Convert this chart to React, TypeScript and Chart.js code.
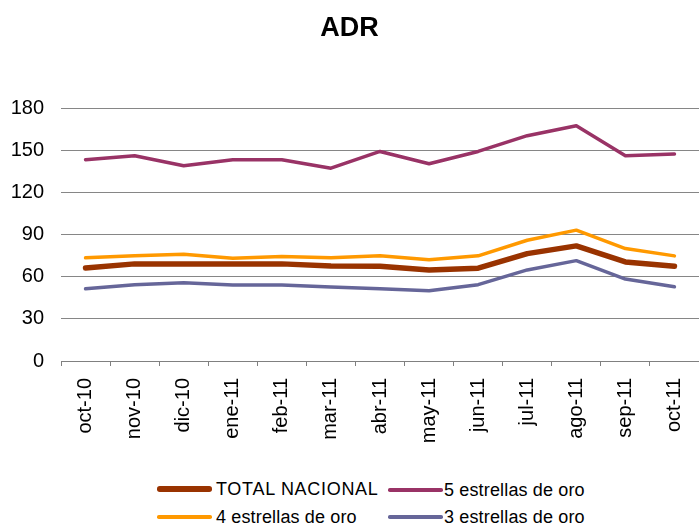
import React, { useEffect, useRef } from "react";
import { Chart, registerables } from "chart.js";

Chart.register(...registerables);

const categories = [
  "oct-10", "nov-10", "dic-10", "ene-11", "feb-11", "mar-11", "abr-11",
  "may-11", "jun-11", "jul-11", "ago-11", "sep-11", "oct-11",
];

const totalNacional = [66.2, 69.1, 69.1, 69.1, 69.1, 67.6, 67.4, 64.8, 66, 76.4, 81.9, 70.5, 67.4];
const cinco = [143.2, 146, 138.9, 143.2, 143.2, 137.2, 149.1, 140.3, 149.1, 160.3, 167.4, 146, 147.2];
const cuatro = [73.4, 74.8, 76, 73.1, 74.3, 73.4, 74.8, 72, 74.8, 85.9, 93.1, 80, 74.8];
const tres = [51.4, 54.3, 55.7, 54, 54, 52.6, 51.4, 50, 54.3, 64.8, 71.4, 58.3, 52.9];

const yTicks = [0, 30, 60, 90, 120, 150, 180];

const seriesNames = ["TOTAL NACIONAL", "5 estrellas de oro", "4 estrellas de oro", "3 estrellas de oro"];
const seriesColors = ["#993300", "#993366", "#FF9900", "#666699"];
const seriesWidths = [5.5, 3.5, 3.5, 3.5];
const seriesData = [totalNacional, cinco, cuatro, tres];

const FONT = "'Liberation Sans', Arial, sans-serif";

export default function App() {
  const canvasRef = useRef<HTMLCanvasElement | null>(null);

  useEffect(() => {
    const canvas = canvasRef.current;
    if (!canvas) return;
    const chart = new Chart(canvas, {
      type: "line",
      data: {
        labels: categories,
        datasets: seriesNames.map((name, i) => ({
          label: name,
          data: seriesData[i],
          borderColor: seriesColors[i],
          backgroundColor: seriesColors[i],
          borderWidth: seriesWidths[i],
          pointRadius: 0,
          tension: 0,
          fill: false,
          borderCapStyle: "round" as const,
          borderJoinStyle: "round" as const,
        })),
      },
      options: {
        animation: false,
        responsive: false,
        maintainAspectRatio: false,
        layout: { padding: { left: 0, right: 0, top: 0, bottom: 0 } },
        plugins: {
          legend: { display: false },
          tooltip: { enabled: false },
          title: {
            display: true,
            text: "ADR",
            color: "#000",
            font: { family: FONT, size: 27, weight: "bold", lineHeight: 1.2 },
            padding: { top: 12, bottom: 63.6 },
          },
        },
        scales: {
          x: {
            type: "category",
            offset: true,
            grid: {
              offset: true,
              drawOnChartArea: false,
              drawTicks: true,
              tickLength: 5,
              color: "#808080",
            },
            border: { display: true, color: "#808080", width: 1 },
            ticks: {
              autoSkip: false,
              minRotation: 90,
              maxRotation: 90,
              padding: 12,
              color: "#000",
              font: { family: FONT, size: 20 },
            },
            afterFit: (scale: any) => {
              scale.height = 109;
              scale.paddingLeft = 0;
              scale.paddingRight = 0;
            },
          },
          y: {
            min: 0,
            max: 180,
            afterBuildTicks: (scale: any) => {
              scale.ticks = yTicks.map((v) => ({ value: v }));
            },
            grid: { color: "#868686", lineWidth: 1, drawTicks: false },
            border: { display: false },
            ticks: {
              padding: 17,
              color: "#000",
              font: { family: FONT, size: 20 },
            },
            afterFit: (scale: any) => {
              scale.width = 61;
            },
          },
        },
      },
    });
    return () => chart.destroy();
  }, []);

  const legendPos = [
    { lineLeft: 157, textLeft: 216, y: 489, spacing: 0.7 },
    { lineLeft: 388, textLeft: 444, y: 490, spacing: 0.15 },
    { lineLeft: 157, textLeft: 216, y: 517, spacing: 0.15 },
    { lineLeft: 388, textLeft: 444, y: 517, spacing: 0.15 },
  ];

  return (
    <div style={{ position: "absolute", left: 0, top: 0, width: 699, height: 525, background: "#fff", overflow: "hidden" }}>
      <canvas ref={canvasRef} width={699} height={470} style={{ display: "block", width: 699, height: 470 }} />
      {seriesNames.map((name, i) => (
        <React.Fragment key={name}>
          <div
            style={{
              position: "absolute",
              left: legendPos[i].lineLeft,
              top: legendPos[i].y - seriesWidths[i] / 2,
              width: 55,
              height: seriesWidths[i],
              borderRadius: seriesWidths[i] / 2,
              background: seriesColors[i],
            }}
          />
          <div
            style={{
              position: "absolute",
              left: legendPos[i].textLeft,
              top: legendPos[i].y - 11,
              height: 22,
              lineHeight: "22px",
              fontFamily: FONT,
              fontSize: 18,
              letterSpacing: legendPos[i].spacing,
              color: "#000",
              whiteSpace: "nowrap",
            }}
          >
            {name}
          </div>
        </React.Fragment>
      ))}
    </div>
  );
}
